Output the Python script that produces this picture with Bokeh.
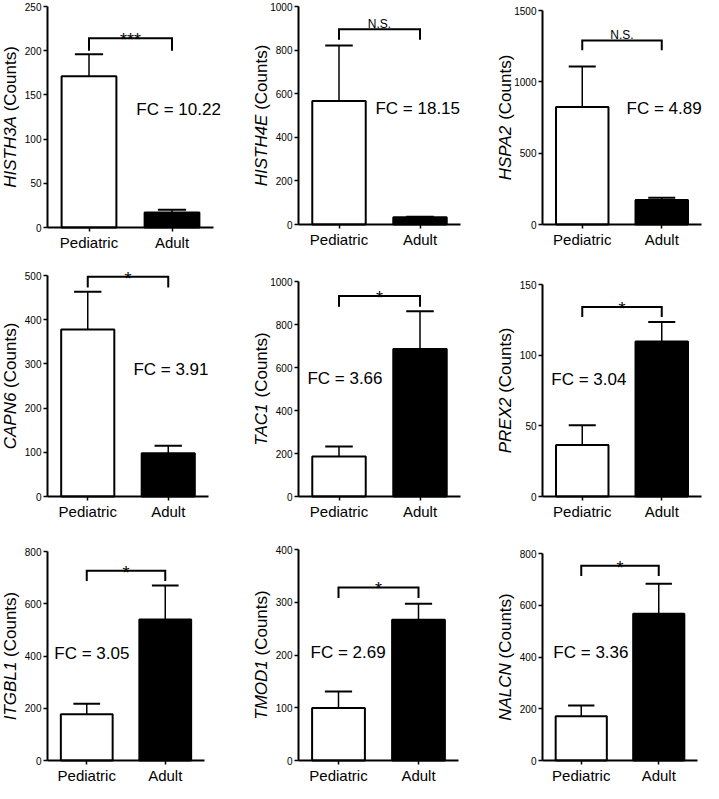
import math
from bokeh.plotting import figure
from bokeh.models import Range1d, FixedTicker, Label, ColumnDataSource
from bokeh.layouts import column, row
from bokeh.transform import dodge
from bokeh.embed import file_html
from bokeh.resources import INLINE

# ---------------- data ----------------
genes = ["HISTH3A", "HISTH4E", "HSPA2", "CAPN6", "TAC1", "PREX2", "ITGBL1", "TMOD1", "NALCN"]
groups = ["Pediatric", "Adult"]
ped_mean = [171, 566, 824, 378, 186, 36.4, 177, 99.6, 171]
ped_err = [25, 255, 283, 85, 46, 14, 40, 31, 42]
adult_mean = [17, 33, 171, 98, 686, 109.7, 540, 266.6, 567]
adult_err = [3, 3, 16, 17, 176, 13.8, 130, 30.4, 116]
fold_change = [10.22, 18.15, 4.89, 3.91, 3.66, 3.04, 3.05, 2.69, 3.36]
significance = ["***", "N.S.", "N.S.", "*", "*", "*", "*", "*", "*"]
y_max = [250, 1000, 1500, 500, 1000, 150, 800, 400, 800]
y_step = [50, 200, 500, 100, 200, 50, 200, 100, 200]
unit_label = "(Counts)"

# ---------------- annotation placement (data units) ----------------
bracket_top = [214, 896, 1290, 497, 933, 134, 726, 328, 753]
bracket_drop = [200, 847, 1221, 473, 883, 127, 687, 308, 713]
fc_x = [1.07, 0.95, 1.057, 1.067, 0.11, 0.11, 0.087, 0.15, 0.14]
fc_y = [134, 531, 815, 287, 547, 83, 411, 204, 416]

# ---------------- layout (pixels) ----------------
col_widths = [235, 237, 231]
row_heights = [259, 261, 263]
# plotting area of each panel inside its canvas: left, right, top, bottom
areas = [
    (47, 213, 6, 227), (63, 225, 6, 224), (70, 229, 10, 224),
    (47, 208, 16, 237), (63, 225, 22, 237), (70, 229, 25, 237),
    (47, 204, 31, 240), (63, 223, 29, 240), (70, 225, 33, 240),
]
YLABEL_GAP = 37  # px from the y axis to the centre of the y label
FONT = "Liberation Sans"
bar_fill = ["white", "black"]

ARIAL = {
    "A": 667, "B": 667, "C": 722, "D": 722, "E": 667, "F": 611, "G": 778, "H": 722,
    "I": 278, "J": 500, "K": 667, "L": 556, "M": 833, "N": 722, "O": 778, "P": 667,
    "Q": 778, "R": 722, "S": 667, "T": 611, "U": 722, "V": 667, "W": 944, "X": 667,
    "Y": 667, "Z": 611, " ": 278, "(": 333, ")": 333, "o": 556, "u": 556, "n": 556,
    "t": 278, "s": 500,
}


def text_width(s, size):
    return sum(ARIAL.get(c, 556) for c in s) * size / 1000.0


def make_panel(i):
    L, R, T, B = areas[i]
    w = col_widths[i % 3]
    h = row_heights[i // 3]
    n = len(groups)
    kx = (R - L) / n
    ky = (B - T) / y_max[i]
    x_range = Range1d(-L / kx, n + (w - R) / kx)
    y_range = Range1d(-(h - B) / ky, y_max[i] + T / ky)

    p = figure(width=w, height=h, output_backend="svg", toolbar_location=None,
               x_range=x_range, y_range=y_range,
               min_border=0, min_border_left=0, min_border_right=0,
               min_border_top=0, min_border_bottom=0)
    p.grid.visible = False
    p.outline_line_color = None
    p.background_fill_color = "white"
    p.border_fill_color = "white"

    centers = [k + 0.5 for k in range(n)]
    tops = [ped_mean[i], adult_mean[i]]
    his = [ped_mean[i] + ped_err[i], adult_mean[i] + adult_err[i]]
    src = ColumnDataSource(dict(x=centers, top=tops, hi=his, fill=bar_fill))

    p.vbar(x="x", top="top", bottom=0, width=0.66, fill_color="fill",
           line_color="black", line_width=2, source=src)
    p.segment(x0="x", y0="top", x1="x", y1="hi", line_color="black",
              line_width=1.5, source=src)
    p.segment(x0=dodge("x", -0.17), y0="hi", x1=dodge("x", 0.17), y1="hi",
              line_color="black", line_width=2, source=src)

    # significance bracket
    p.line(x=[centers[0], centers[0], centers[1], centers[1]],
           y=[bracket_drop[i], bracket_top[i], bracket_top[i], bracket_drop[i]],
           line_color="black", line_width=2, line_join="miter")

    sig = significance[i]
    is_star = "*" in sig
    p.add_layout(Label(x=sum(centers) / 2, y=bracket_top[i], text=sig,
                       text_align="center", text_baseline="alphabetic",
                       y_offset=-2 if is_star else 5,
                       text_font=FONT, text_font_size="18px" if is_star else "12px",
                       text_color="black"))

    # fold change text
    p.add_layout(Label(x=fc_x[i], y=fc_y[i], text=f"FC = {fold_change[i]:.2f}",
                       text_align="left", text_baseline="middle",
                       text_font=FONT, text_font_size="17px", text_color="black"))

    # y axis label: italic gene name + regular "(Counts)", centred on the axis
    fs = 17
    total = text_width(genes[i], fs) + text_width(" ", fs) + text_width(unit_label, fs)
    xlab = -YLABEL_GAP / kx
    p.add_layout(Label(x=xlab, y=y_max[i] / 2, y_offset=-total / 2, text=genes[i],
                       angle=math.pi / 2, text_align="left", text_baseline="middle",
                       text_font=FONT, text_font_size=f"{fs}px", text_font_style="italic",
                       text_color="black"))
    p.add_layout(Label(x=xlab, y=y_max[i] / 2, y_offset=total / 2, text=unit_label,
                       angle=math.pi / 2, text_align="right", text_baseline="middle",
                       text_font=FONT, text_font_size=f"{fs}px", text_color="black"))

    # axes, pinned to the data origin and limited to the data extent
    ya = p.yaxis[0]
    ya.ticker = FixedTicker(ticks=list(range(0, y_max[i] + 1, y_step[i])))
    ya.fixed_location = 0
    ya.bounds = (0, y_max[i])
    xa = p.xaxis[0]
    xa.ticker = FixedTicker(ticks=centers)
    xa.major_label_overrides = {c: g for c, g in zip(centers, groups)}
    xa.fixed_location = 0
    xa.bounds = (0, n)
    for ax in (ya, xa):
        ax.axis_line_width = 2
        ax.axis_line_color = "black"
        ax.major_tick_line_width = 1.5
        ax.major_tick_line_color = "black"
        ax.major_tick_out = 4
        ax.major_tick_in = 0
        ax.minor_tick_line_color = None
        ax.major_label_standoff = 2
        ax.major_label_text_font = FONT
        ax.major_label_text_color = "black"
    ya.major_label_text_font_size = "10px"
    xa.major_label_text_font_size = "15px"
    return p


panels = [make_panel(i) for i in range(len(genes))]
layout = column(*[row(*panels[r * 3:(r + 1) * 3]) for r in range(3)])

open("out.html", "w").write(file_html(layout, INLINE))
